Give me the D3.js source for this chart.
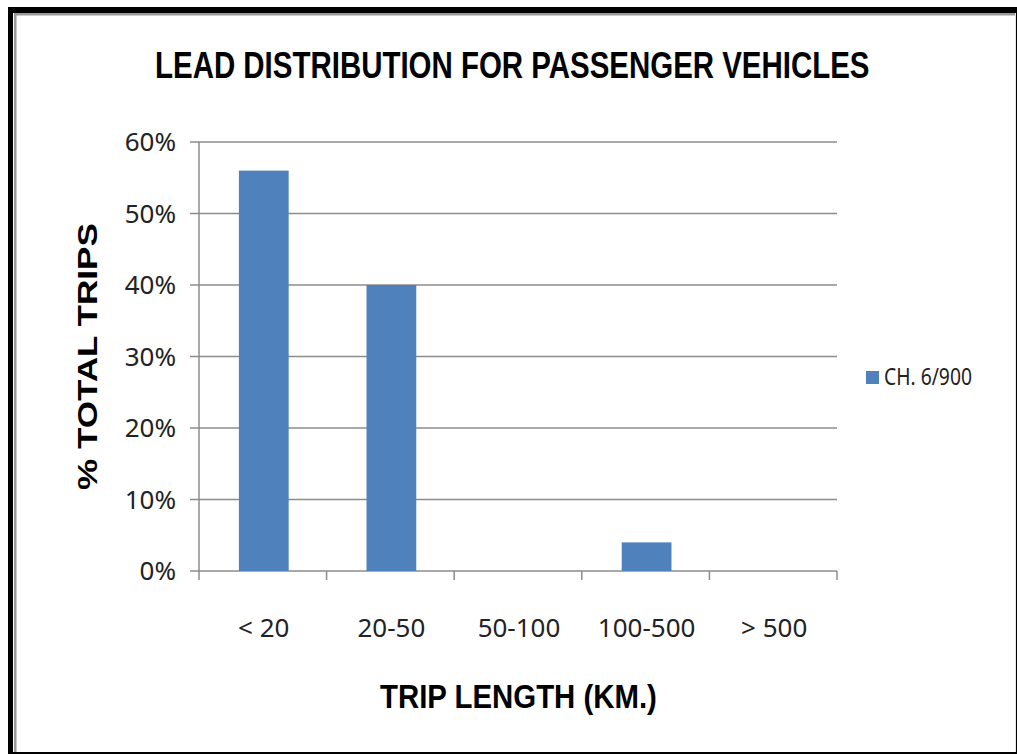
<!DOCTYPE html>
<html>
<head>
<meta charset="utf-8">
<script src="https://cdn.jsdelivr.net/npm/d3@7/dist/d3.min.js"></script>
<style>
  html, body { margin: 0; padding: 0; background: #fff; }
  svg { display: block; }
</style>
</head>
<body>
<svg id="chart" width="1017" height="754"></svg>
<script>
// Trip length bands and share of total trips
const categories = ["< 20", "20-50", "50-100", "100-500", "> 500"];
const shares = [0.56, 0.40, 0.0, 0.04, 0.0];
const yTicks = [0, 0.1, 0.2, 0.3, 0.4, 0.5, 0.6];
const seriesName = "CH. 6/900";
const chartTitle = "LEAD DISTRIBUTION FOR PASSENGER VEHICLES";
const xTitle = "TRIP LENGTH (KM.)";
const yTitle = "% TOTAL TRIPS";

const W = 1017, H = 754;
const svg = d3.select("#chart");

// Outer frame: heavy black edge with a thin grey inner bevel
svg.append("rect").attr("x", 8).attr("y", 7).attr("width", W - 8).attr("height", H - 7).attr("fill", "#000");
svg.append("rect").attr("x", 13).attr("y", 13).attr("width", W - 14).attr("height", H - 15).attr("fill", "#fff");
svg.append("rect").attr("x", 14).attr("y", 13).attr("width", 2.5).attr("height", H - 15).attr("fill", "#9a9a9a");
svg.append("rect").attr("x", 14).attr("y", 13).attr("width", W - 15).attr("height", 2.5).attr("fill", "#9a9a9a");
svg.append("rect").attr("x", W - 2).attr("y", 13).attr("width", 1).attr("height", H - 15).attr("fill", "#e6e6e6");

const plot = { left: 199, right: 837, top: 142, bottom: 571 };

const x = d3.scaleBand().domain(categories).range([plot.left, plot.right]).padding(0);
const y = d3.scaleLinear().domain([0, 0.6]).range([plot.bottom, plot.top]);

const gridColor = "#8c8c8c";

// Horizontal gridlines (with left tick stubs)
svg.append("g").selectAll("line").data(yTicks).join("line")
  .attr("x1", plot.left - 9).attr("x2", plot.right)
  .attr("y1", d => y(d)).attr("y2", d => y(d))
  .attr("stroke", gridColor).attr("stroke-width", 1.5);

// Y axis line
svg.append("line")
  .attr("x1", plot.left).attr("x2", plot.left)
  .attr("y1", plot.top).attr("y2", plot.bottom + 1)
  .attr("stroke", gridColor).attr("stroke-width", 1.5);

// Category boundary ticks below the baseline
const boundaries = categories.map(c => x(c)).concat([x(categories[categories.length - 1]) + x.bandwidth()]);
svg.append("g").selectAll("line").data(boundaries).join("line")
  .attr("x1", d => d).attr("x2", d => d)
  .attr("y1", plot.bottom).attr("y2", plot.bottom + 9)
  .attr("stroke", gridColor).attr("stroke-width", 1.5);

// Y tick labels
const fmt = d3.format(".0%");
svg.append("g").selectAll("text").data(yTicks).join("text")
  .attr("x", 176).attr("y", d => y(d))
  .attr("dy", "0.36em")
  .attr("text-anchor", "end")
  .attr("font-family", "'Noto Sans', sans-serif")
  .attr("font-size", 26)
  .attr("fill", "#222")
  .text(d => fmt(d));

// Category labels
svg.append("g").selectAll("text").data(categories).join("text")
  .attr("x", d => x(d) + x.bandwidth() / 2 + 1)
  .attr("y", 637)
  .attr("text-anchor", "middle")
  .attr("font-family", "'Noto Sans', sans-serif")
  .attr("font-size", 26)
  .attr("fill", "#222")
  .text(d => d);

// Bars
const barFrac = 0.39;
const barColor = "#4f81bd";
svg.append("g").selectAll("rect").data(categories.map((c, i) => ({ c, v: shares[i] })).filter(d => d.v > 0)).join("rect")
  .attr("x", d => x(d.c) + x.bandwidth() * (1 - barFrac) / 2 + 1)
  .attr("width", x.bandwidth() * barFrac)
  .attr("y", d => y(d.v))
  .attr("height", d => y(0) - y(d.v))
  .attr("fill", barColor);

// Legend
const legend = svg.append("g");
legend.append("rect").attr("x", 866).attr("y", 371).attr("width", 13).attr("height", 13).attr("fill", barColor);

// Condensed text: draw at natural width, then squeeze horizontally to a target width
function condensed(parent, str, px, py, width, size, opts) {
  const g = parent.append("g").attr("transform", `translate(${px},${py})`);
  const t = g.append("text")
    .attr("font-family", opts.family)
    .attr("font-weight", opts.weight || "normal")
    .attr("font-size", size)
    .attr("fill", opts.fill || "#000")
    .text(str);
  const natural = t.node().getComputedTextLength();
  t.attr("transform", `scale(${width / natural},1)`);
  return g;
}

condensed(legend, seriesName, 884, 385, 88, 24, { family: "'Noto Sans', sans-serif", fill: "#222" });

// Titles
condensed(svg, chartTitle, 155, 78, 715, 36, { family: "'Liberation Sans', Arial, sans-serif", weight: "bold" });
condensed(svg, xTitle, 380, 708, 277, 34, { family: "'Liberation Sans', Arial, sans-serif", weight: "bold" });

const yt = svg.append("g").attr("transform", "translate(97,490) rotate(-90)");
condensed(yt, yTitle, 0, 0, 267, 28, { family: "'Liberation Sans', Arial, sans-serif", weight: "bold" });
</script>
</body>
</html>
